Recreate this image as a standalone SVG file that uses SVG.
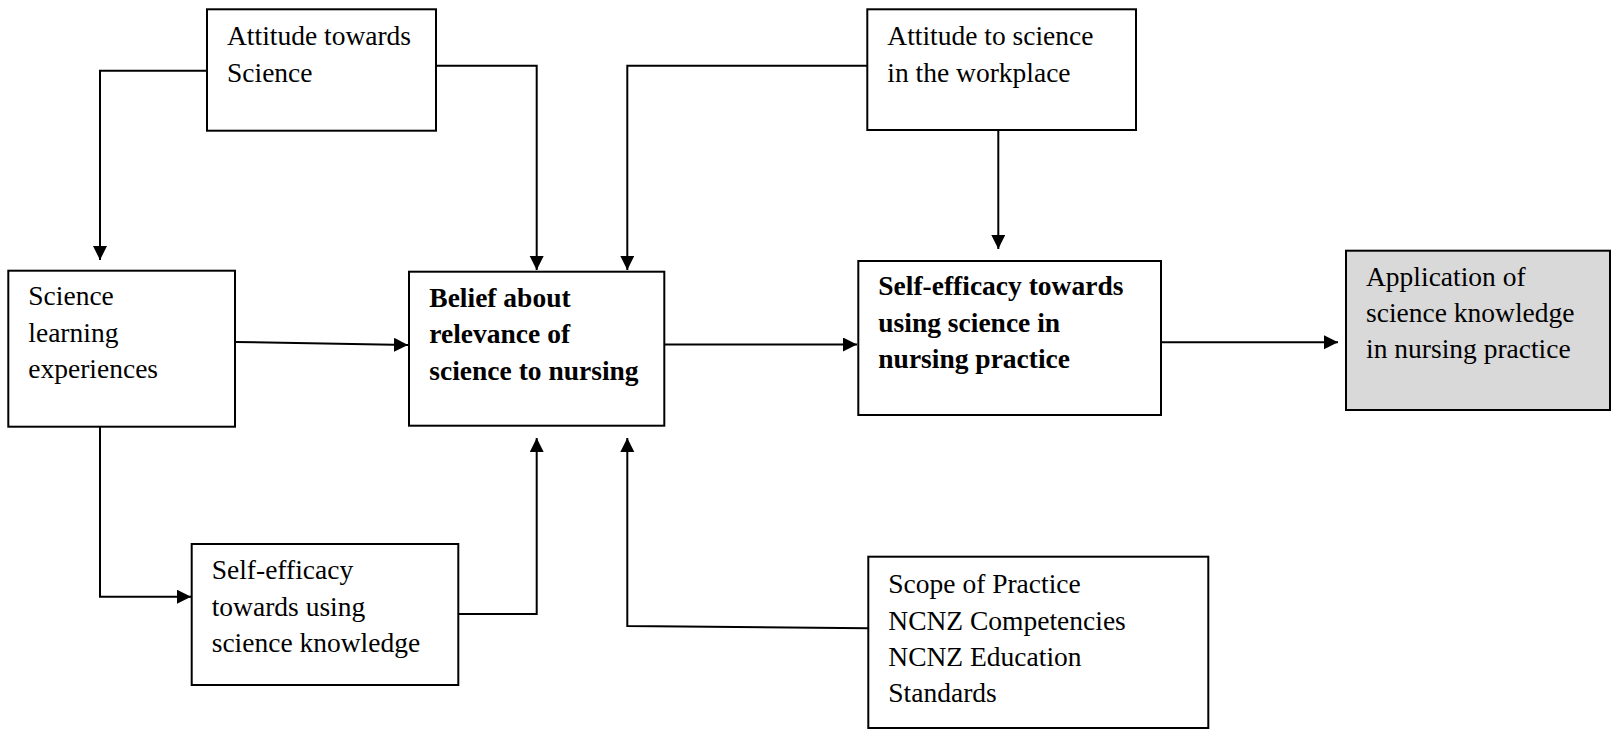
<svg xmlns="http://www.w3.org/2000/svg" width="1612" height="729" viewBox="0 0 1612 729">
<style>
.box{fill:#fff;stroke:#000;stroke-width:2}
.gray{fill:#d9d9d9;stroke:#000;stroke-width:2}
.t{font-family:"Liberation Serif","Times New Roman",serif;font-size:27.5px;fill:#000}
.b{font-weight:bold}
.c{fill:none;stroke:#000;stroke-width:2}
</style>
<defs>
<marker id="ah" markerUnits="userSpaceOnUse" markerWidth="15" markerHeight="15" refX="14" refY="7" orient="auto">
<path d="M0,0 L14,7 L0,14 z" fill="#000"/>
</marker>
</defs>
<g id="connectors">
<polyline class="c" points="207,70.7 100,70.7 100,260" marker-end="url(#ah)"/>
<polyline class="c" points="436,65.7 536.7,65.7 536.7,270" marker-end="url(#ah)"/>
<polyline class="c" points="867.3,65.7 627.3,65.7 627.3,270" marker-end="url(#ah)"/>
<polyline class="c" points="998.3,130 998.3,249" marker-end="url(#ah)"/>
<polyline class="c" points="235,342 408,345" marker-end="url(#ah)"/>
<polyline class="c" points="664.3,344.5 857,344.5" marker-end="url(#ah)"/>
<polyline class="c" points="1161,342.3 1338,342.3" marker-end="url(#ah)"/>
<polyline class="c" points="100,426.7 100,596.7 191,596.7" marker-end="url(#ah)"/>
<polyline class="c" points="458.3,614 536.7,614 536.7,438" marker-end="url(#ah)"/>
<polyline class="c" points="868.3,628.3 627.3,626 627.3,438" marker-end="url(#ah)"/>
</g>
<g id="attitude-science">
<rect class="box" x="207" y="9.3" width="229" height="121.4"/>
<text class="t" x="227" y="45">Attitude towards</text>
<text class="t" x="227" y="82">Science</text>
</g>
<g id="attitude-workplace">
<rect class="box" x="867.3" y="9.3" width="268.7" height="120.7"/>
<text class="t" x="887.3" y="45">Attitude to science</text>
<text class="t" x="887.3" y="81.7">in the workplace</text>
</g>
<g id="science-learning">
<rect class="box" x="8.3" y="270.7" width="226.7" height="156"/>
<text class="t" x="28.3" y="305">Science</text>
<text class="t" x="28.3" y="341.7">learning</text>
<text class="t" x="28.3" y="377.7">experiences</text>
</g>
<g id="belief">
<rect class="box" x="409" y="271.7" width="255.3" height="154"/>
<text class="t b" x="429.3" y="307.3">Belief about</text>
<text class="t b" x="429.3" y="343.3">relevance of</text>
<text class="t b" x="429.3" y="380">science to nursing</text>
</g>
<g id="self-efficacy-practice">
<rect class="box" x="858.3" y="261" width="302.7" height="154"/>
<text class="t b" x="878.3" y="295">Self-efficacy towards</text>
<text class="t b" x="878.3" y="331.7">using science in</text>
<text class="t b" x="878.3" y="368.3">nursing practice</text>
</g>
<g id="application">
<rect class="gray" x="1346" y="250.7" width="264" height="159.3"/>
<text class="t" x="1366" y="286">Application of</text>
<text class="t" x="1366" y="322">science knowledge</text>
<text class="t" x="1366" y="358">in nursing practice</text>
</g>
<g id="self-efficacy-knowledge">
<rect class="box" x="191.7" y="544" width="266.6" height="141"/>
<text class="t" x="211.7" y="579">Self-efficacy</text>
<text class="t" x="211.7" y="615.5">towards using</text>
<text class="t" x="211.7" y="652">science knowledge</text>
</g>
<g id="scope">
<rect class="box" x="868.3" y="556.7" width="340" height="171.3"/>
<text class="t" x="888.3" y="593">Scope of Practice</text>
<text class="t" x="888.3" y="629.5">NCNZ Competencies</text>
<text class="t" x="888.3" y="666">NCNZ Education</text>
<text class="t" x="888.3" y="702">Standards</text>
</g>
</svg>
